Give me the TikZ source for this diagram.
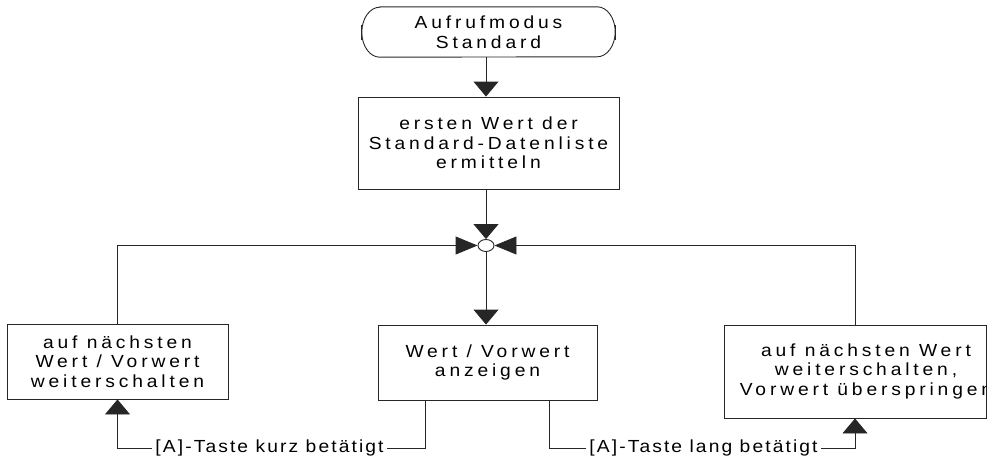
\documentclass[tikz,border=0pt]{standalone}
\usepackage{fontspec}
\setmainfont{Liberation Sans}
\newfontfamily\boxfont[FakeStretch=1.1, LetterSpace=22]{Liberation Sans}
\newfontfamily\keyfont[FakeStretch=1.1, LetterSpace=12]{Liberation Sans}
\usetikzlibrary{arrows.meta,shapes.geometric}

\tikzset{
  line/.style={line width=0.9pt, black!85},
  txt/.style={align=center, inner sep=0pt, font=\boxfont\fontsize{17.5}{19.5}\selectfont},
  stepbox/.style={txt, draw, line width=0.9pt, black!85, text=black},
  keylabel/.style={inner sep=3pt, font=\keyfont\fontsize{17.5}{19.5}\selectfont},
  vflow/.style={line, -{Triangle[width=25pt,length=15pt]}},
  hflow/.style={line, -{Triangle[width=18pt,length=22pt]}},
}

\begin{document}
\begin{tikzpicture}[x=1pt, y=1pt]
    \useasboundingbox (0,0) rectangle (992,-463);

    % start terminal
    \node[txt, minimum width=253pt, minimum height=50pt] (start) at (488.5,-32) {Aufrufmodus\\Standard};
    \draw[line] ([xshift=18pt]start.north west) -- ([xshift=-18pt]start.north east)
        arc[start angle=90, end angle=-90, x radius=18pt, y radius=25pt]
        -- ([xshift=18pt]start.south west)
        arc[start angle=270, end angle=90, x radius=18pt, y radius=25pt] -- cycle;
    \draw[line] ([yshift=7pt]start.west) -- ([yshift=-8pt]start.west);
    \draw[line] ([yshift=7pt]start.east) -- ([yshift=-8pt]start.east);

    \node[stepbox, minimum width=261pt, minimum height=92pt] (find) at (488.5,-143) {ersten Wert der\\Standard-Datenliste\\ermitteln};
    \draw[vflow] (start.south -| 486,0) -- (find.north -| 486,0);

    % junction
    \node[ellipse, draw, line width=0.9pt, black!85, minimum width=16pt, minimum height=12pt, inner sep=0pt] (join) at (486,-245.5) {};
    \draw[vflow] (find.south -| join.north) -- (join.north);

    \node[stepbox, minimum width=221pt, minimum height=75pt] (next) at (117.5,-361.5) {auf nächsten\\Wert / Vorwert\\weiterschalten};
    \node[stepbox, minimum width=219pt, minimum height=75pt] (show) at (487.5,-362.5) {Wert / Vorwert\\anzeigen};
    \node[stepbox, minimum width=262pt, minimum height=93pt] (skip) at (855,-371.5) {};
    \begin{scope}
        \clip (skip.south west) rectangle (skip.north east);
        \node[txt] (skiptext) at (866,-371) {auf nächsten Wert\\weiterschalten,\\Vorwert überspringen};
    \end{scope}

    \draw[hflow] (next.north) |- (join.west);
    \draw[hflow] (skip.north) |- (join.east);
    \draw[vflow] (join.south) -- (show.north -| join.south);

    % key feedback
    \node[keylabel] (kurz) at (269.5,-448) {[A]-Taste kurz betätigt};
    \node[keylabel] (lang) at (703.5,-448) {[A]-Taste lang betätigt};
    \draw[line] ([xshift=-62.5pt]show.south) |- (kurz.east);
    \draw[vflow] (kurz.west) -| (next.south);
    \draw[line] ([xshift=61.5pt]show.south) |- (lang.west);
    \draw[vflow] (lang.east) -| (skip.south);
\end{tikzpicture}
\end{document}
